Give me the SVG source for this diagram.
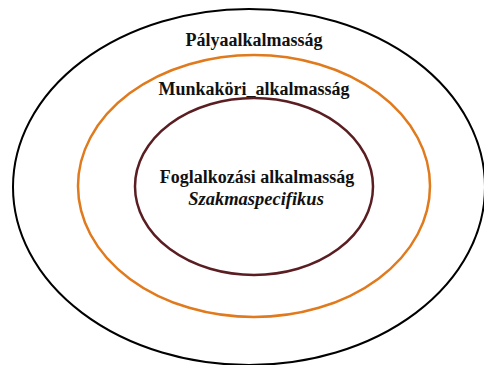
<svg xmlns="http://www.w3.org/2000/svg" width="484" height="365" viewBox="0 0 484 365">
  <rect width="484" height="365" fill="#fff"/>
  <!-- three nested rings, outermost first -->
  <g id="palyaalkalmassag">
    <ellipse cx="249" cy="187" rx="236" ry="178" fill="none" stroke="#000" stroke-width="2"/>
    <text x="254" y="46" text-anchor="middle" style="font-family: 'Liberation Serif'; font-size: 18px; font-weight: bold; fill: #111">Pályaalkalmasság</text>
  </g>
  <g id="munkakori-alkalmassag">
    <ellipse cx="254" cy="186" rx="176" ry="131" fill="none" stroke="#E07A1C" stroke-width="2.5"/>
    <text x="254" y="95" text-anchor="middle" style="font-family: 'Liberation Serif'; font-size: 18px; font-weight: bold; fill: #111">Munkaköri_alkalmasság</text>
  </g>
  <g id="foglalkozasi-alkalmassag">
    <ellipse cx="254" cy="186.5" rx="119" ry="88.5" fill="none" stroke="#5A1E22" stroke-width="2.5"/>
    <text x="257" y="183" text-anchor="middle" style="font-family: 'Liberation Serif'; font-size: 18px; font-weight: bold; fill: #111">Foglalkozási alkalmasság</text>
    <text x="256" y="205" text-anchor="middle" style="font-family: 'Liberation Serif'; font-size: 18.5px; font-style: italic; font-weight: bold; fill: #111">Szakmaspecifikus</text>
  </g>
</svg>
